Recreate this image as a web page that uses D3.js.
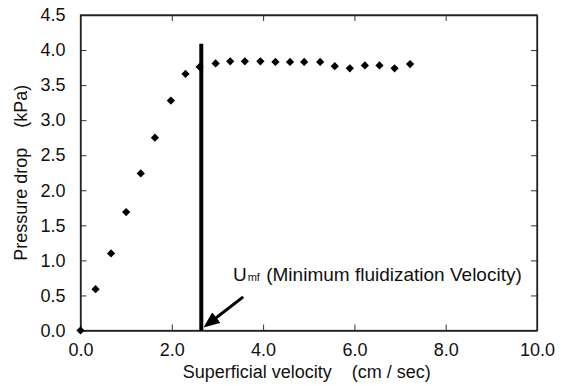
<!DOCTYPE html>
<html>
<head>
<meta charset="utf-8">
<script src="https://cdn.jsdelivr.net/npm/d3@7"></script>
<style>
  body { margin: 0; background: #fff; }
  text { font-family: Arial, "Liberation Sans", sans-serif; fill: #111; }
</style>
</head>
<body>
<div id="chart"></div>
<script>
// measured points (cm/sec, kPa)
var velocity = [0, 0.33, 0.67, 1.00, 1.32, 1.63, 1.98, 2.30, 2.61, 2.96, 3.28, 3.60,
                3.94, 4.27, 4.59, 4.90, 5.25, 5.57, 5.90, 6.23, 6.55, 6.88, 7.22];
var pressure = [0, 0.59, 1.10, 1.69, 2.24, 2.75, 3.28, 3.66, 3.76, 3.81, 3.84, 3.84,
                3.84, 3.83, 3.83, 3.83, 3.83, 3.77, 3.74, 3.78, 3.78, 3.74, 3.80];

var xTicks = [0, 2, 4, 6, 8, 10];
var yTicks = [0, 0.5, 1, 1.5, 2, 2.5, 3, 3.5, 4, 4.5];

// Umf marker line and annotation (data units)
var umf = 2.646, umfTop = 4.09;
var arrowFrom = [3.565, 0.48], arrowTo = [2.727, 0.054];
var labelAt = [3.34, 0.71];

var width = 565, height = 385;
var margin = {top: 15, right: 28, bottom: 54.5, left: 80.5};

var svg = d3.select("#chart")
    .append("svg")
    .attr("width", width)
    .attr("height", height);

var x = d3.scaleLinear()
    .domain([0, 10])
    .range([margin.left, width - margin.right]);

var y = d3.scaleLinear()
    .domain([0, 4.5])
    .range([height - margin.bottom, margin.top]);

var fmt = d3.format(".1f");

// axes, ticks pointing inward
svg.append("g")
    .attr("transform", "translate(0," + y(0) + ")")
    .call(d3.axisBottom(x).tickValues(xTicks).tickSizeInner(-6).tickSizeOuter(0).tickPadding(13).tickFormat(fmt));

svg.append("g")
    .attr("transform", "translate(" + x(0) + ",0)")
    .call(d3.axisLeft(y).tickValues(yTicks).tickSizeInner(-6).tickSizeOuter(0).tickPadding(15).tickFormat(fmt));

svg.append("g")
    .attr("transform", "translate(0," + y(4.5) + ")")
    .call(d3.axisTop(x).tickValues(xTicks.slice(1, -1)).tickSizeInner(-6).tickSizeOuter(0).tickFormat(""));

svg.append("g")
    .attr("transform", "translate(" + x(10) + ",0)")
    .call(d3.axisRight(y).tickValues(yTicks.slice(1, -1)).tickSizeInner(-6).tickSizeOuter(0).tickFormat(""));

svg.selectAll(".domain").attr("stroke", "#222").attr("stroke-width", 1.3);
svg.selectAll(".tick line").attr("stroke", "#333");
svg.selectAll(".tick text")
    .style("font-size", "18px")
    .attr("fill", "#111");

// frame
svg.append("rect")
    .attr("x", x(0)).attr("y", y(4.5))
    .attr("width", x(10) - x(0)).attr("height", y(0) - y(4.5))
    .attr("fill", "none").attr("stroke", "#222").attr("stroke-width", 1.3);

// axis titles
svg.append("text")
    .attr("x", (x(0) + x(10)) / 2 - 2)
    .attr("y", 378)
    .attr("text-anchor", "middle")
    .style("font-size", "18px")
    .style("white-space", "pre")
    .text("Superficial velocity    (cm / sec)");

svg.append("text")
    .attr("transform", "translate(27," + (y(0) + y(4.5)) / 2 + ") rotate(-90)")
    .attr("text-anchor", "middle")
    .style("font-size", "18px")
    .style("white-space", "pre")
    .text("Pressure drop    (kPa)");

// Umf line
svg.append("line")
    .attr("x1", x(umf)).attr("x2", x(umf))
    .attr("y1", y(0)).attr("y2", y(umfTop))
    .attr("stroke", "#000")
    .attr("stroke-width", 4);

// arrow
svg.append("defs").append("marker")
    .attr("id", "head")
    .attr("viewBox", "0 0 12 10")
    .attr("refX", 5).attr("refY", 5)
    .attr("markerWidth", 5.4).attr("markerHeight", 4.5)
    .attr("markerUnits", "strokeWidth")
    .attr("orient", "auto")
    .append("path")
    .attr("d", "M0,0L12,5L0,10Z")
    .attr("fill", "#000");

svg.append("line")
    .attr("x1", x(arrowFrom[0])).attr("y1", y(arrowFrom[1]))
    .attr("x2", x(arrowTo[0]) + 6).attr("y2", y(arrowTo[1]) - 5)
    .attr("stroke", "#000")
    .attr("stroke-width", 3)
    .attr("marker-end", "url(#head)");

var lab = svg.append("text")
    .attr("x", x(labelAt[0]))
    .attr("y", y(labelAt[1]))
    .style("font-size", "19px")
    .style("white-space", "pre");
lab.append("tspan").text("U");
lab.append("tspan").style("font-size", "11px").attr("dx", 1).text("mf");
lab.append("tspan").attr("dx", 1).text(" (Minimum fluidization Velocity)");

// points
var pts = velocity.map(function(v, i) { return {x: v, y: pressure[i]}; });
svg.append("g")
    .selectAll("path")
    .data(pts)
    .join("path")
    .attr("d", d3.symbol(d3.symbolSquare, 34))
    .attr("transform", function(d) { return "translate(" + x(d.x) + "," + y(d.y) + ") rotate(45)"; })
    .attr("fill", "#000");
</script>
</body>
</html>
